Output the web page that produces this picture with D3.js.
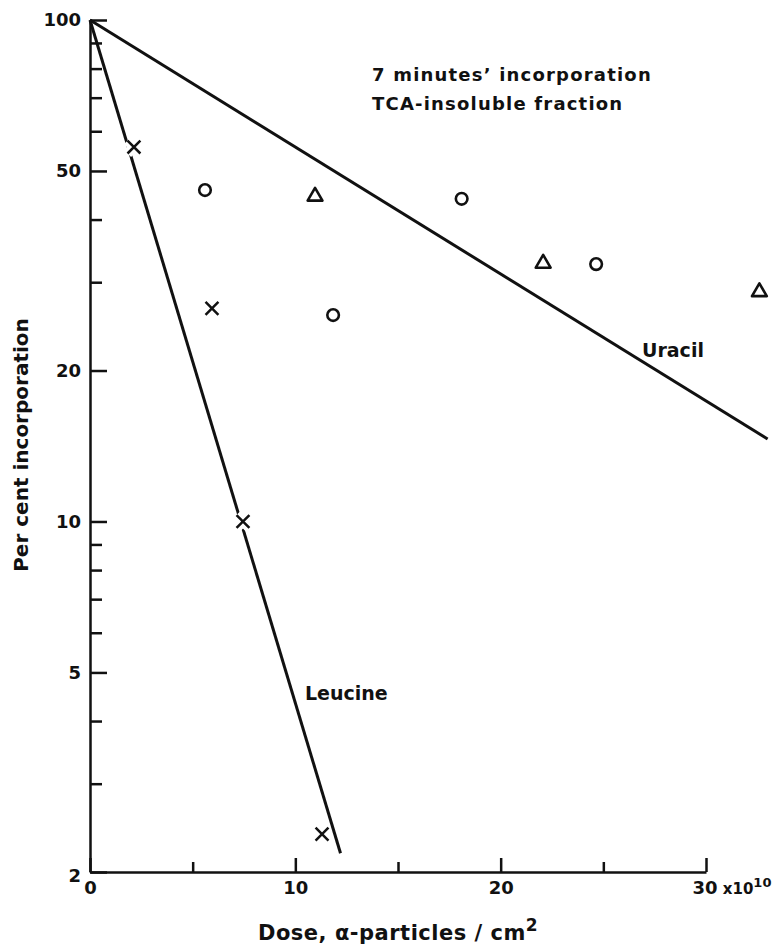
<!DOCTYPE html>
<html>
<head>
<meta charset="utf-8">
<script src="https://cdn.jsdelivr.net/npm/d3@7"></script>
<style>
  body { margin: 0; background: #fff; }
  svg text { font-family: "DejaVu Sans", sans-serif; font-weight: bold; fill: #111; }
</style>
</head>
<body>
<svg id="chart" width="776" height="945"></svg>
<script>
// dose in units of 1e10 alpha-particles/cm2, per cent incorporation
const leucinePoints = [[2.14, 55.8], [5.94, 26.6], [7.45, 10.0], [11.3, 2.38]];
const uracilCircles = [[5.6, 45.8], [11.84, 25.8], [18.1, 44.0], [24.65, 32.6]];
const uracilTriangles = [[10.96, 44.5], [22.07, 32.7], [32.6, 28.7]];
const leucineFit = [[0, 100], [12.2, 2.18]];
const uracilFit = [[0, 100], [33, 14.6]];

const yMajor = [100, 50, 20, 10, 5, 2];
const yMinor = [90, 80, 70, 60, 40, 30, 9, 8, 7, 6, 4, 3];
const xMajor = [0, 10, 20, 30];
const xMinor = [5, 15, 25];

const svg = d3.select('#chart');
const ink = '#111';

const x = d3.scaleLinear().domain([0, 30]).range([90, 706]);
const y = d3.scaleLog().domain([2, 100]).range([872, 20]);

// y axis, ticks point inward
const yAxis = svg.append('g').attr('transform', `translate(${x(0)},0)`);
yAxis.call(d3.axisLeft(y).tickValues(yMajor).tickFormat(d3.format('d'))
    .tickSizeInner(-17).tickSizeOuter(0).tickPadding(9));
svg.append('g').attr('transform', `translate(${x(0)},0)`)
    .call(d3.axisLeft(y).tickValues(yMinor).tickFormat('')
    .tickSizeInner(-12).tickSizeOuter(0))
    .select('.domain').remove();

// x axis, ticks point up
const xAxis = svg.append('g').attr('transform', `translate(0,${y(2)})`);
xAxis.call(d3.axisBottom(x).tickValues(xMajor).tickFormat(d3.format('d'))
    .tickSizeInner(-14).tickSizeOuter(0).tickPadding(9));
svg.append('g').attr('transform', `translate(0,${y(2)})`)
    .call(d3.axisBottom(x).tickValues(xMinor).tickFormat('')
    .tickSizeInner(-10).tickSizeOuter(0))
    .select('.domain').remove();

svg.selectAll('.domain, .tick line').attr('stroke', ink).attr('stroke-width', 2.5);
svg.selectAll('.tick text').attr('font-size', 18).attr('fill', ink)
    .attr('font-family', '"DejaVu Sans", sans-serif').attr('font-weight', 'bold');
yAxis.selectAll('.tick text').filter(d => d === 2).attr('dy', '0.55em');

// "30 x10^10"
const t30 = xAxis.selectAll('.tick text').filter(d => d === 30);
t30.attr('text-anchor', 'start').attr('dx', -14);
t30.append('tspan').attr('font-size', 15).text(' x10');
t30.append('tspan').attr('font-size', 13).attr('dy', -7).text('10');

// fitted lines
const line = d3.line().x(d => x(d[0])).y(d => y(d[1]));
svg.append('path').datum(uracilFit).attr('d', line)
    .attr('fill', 'none').attr('stroke', ink).attr('stroke-width', 3);
svg.append('path').datum(leucineFit).attr('d', line)
    .attr('fill', 'none').attr('stroke', ink).attr('stroke-width', 3);

// markers
const cross = d3.symbol().type(d3.symbolX).size(110);
svg.selectAll('.halo').data(leucinePoints).join('path')
    .attr('transform', d => `translate(${x(d[0])},${y(d[1])})`)
    .attr('d', cross).attr('fill', 'none').attr('stroke', '#fff').attr('stroke-width', 10);
svg.selectAll('.leu').data(leucinePoints).join('path')
    .attr('transform', d => `translate(${x(d[0])},${y(d[1])})`)
    .attr('d', cross).attr('fill', 'none').attr('stroke', ink).attr('stroke-width', 2.5);

svg.selectAll('.circ').data(uracilCircles).join('circle')
    .attr('cx', d => x(d[0])).attr('cy', d => y(d[1])).attr('r', 5.8)
    .attr('fill', 'none').attr('stroke', ink).attr('stroke-width', 2.6);

const tri = d3.symbol().type(d3.symbolTriangle).size(95);
svg.selectAll('.tri').data(uracilTriangles).join('path')
    .attr('transform', d => `translate(${x(d[0])},${y(d[1])})`)
    .attr('d', tri).attr('fill', 'none').attr('stroke', ink).attr('stroke-width', 2.6)
    .attr('stroke-linejoin', 'round');

// labels
svg.append('text').attr('x', 642).attr('y', 357).attr('font-size', 19).text('Uracil');
svg.append('text').attr('x', 305).attr('y', 700).attr('font-size', 19).text('Leucine');
svg.append('text').attr('x', 372).attr('y', 81).attr('font-size', 18)
    .attr('letter-spacing', 1.2).text('7 minutes\u2019 incorporation');
svg.append('text').attr('x', 372).attr('y', 110).attr('font-size', 18)
    .attr('letter-spacing', 1.2).text('TCA-insoluble fraction');

// axis titles
const xt = svg.append('text').attr('x', 258).attr('y', 940).attr('font-size', 21)
    .attr('letter-spacing', 0.5);
xt.append('tspan').text('Dose, \u03b1-particles / cm');
xt.append('tspan').attr('dy', -9).attr('font-size', 17).text('2');

svg.append('text').attr('transform', 'translate(28,445) rotate(-90)')
    .attr('text-anchor', 'middle').attr('font-size', 20).text('Per cent incorporation');
</script>
</body>
</html>
